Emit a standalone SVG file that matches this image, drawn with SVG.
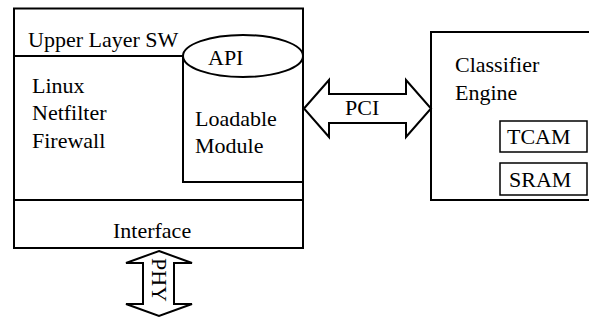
<svg xmlns="http://www.w3.org/2000/svg" width="589" height="321" viewBox="0 0 589 321">
<style>
.ln{fill:none;stroke:#000;stroke-width:2}
.bx{fill:#fff;stroke:#000;stroke-width:2}
.sm{fill:#fff;stroke:#000;stroke-width:1.5}
text{font-family:"Liberation Serif","Times New Roman",serif;font-size:22px;fill:#000}
</style>
<rect width="589" height="321" fill="#fff"/>
<g id="host">
<rect class="bx" x="14" y="8.5" width="289" height="239.5"/>
</g>
<g id="upper-layer-sw">
<line class="ln" x1="14" y1="56" x2="183" y2="56"/>
<text x="28" y="47">Upper Layer SW</text>
<text x="32" y="92.5">Linux</text>
<text x="32" y="120">Netfilter</text>
<text x="32" y="147.5">Firewall</text>
</g>
<g id="loadable-module">
<path class="ln" d="M183,56 V182 H303"/>
<ellipse class="bx" cx="243" cy="56" rx="60" ry="21"/>
<text x="208" y="65">API</text>
<text x="195" y="125.5">Loadable</text>
<text x="195" y="153">Module</text>
</g>
<g id="interface">
<line class="ln" x1="14" y1="200" x2="303" y2="200"/>
<text x="113" y="238">Interface</text>
</g>
<g id="classifier-engine">
<rect class="bx" x="431" y="32" width="170" height="168"/>
<text x="455" y="71.5">Classifier</text>
<text x="455" y="99.5">Engine</text>
</g>
<g id="tcam">
<rect class="sm" x="500" y="121" width="87" height="31"/>
<text x="507" y="143.5">TCAM</text>
</g>
<g id="sram">
<rect class="sm" x="500" y="163" width="87" height="32"/>
<text x="509" y="186.5">SRAM</text>
</g>
<g id="connectors">
<g id="pci">
<polygon class="bx" points="304,108.5 329,80 329,94 406,94 406,80 431,108.5 406,137 406,123 329,123 329,137"/>
<text x="345" y="115">PCI</text>
</g>
<g id="phy">
<polygon class="bx" points="159,251 192,263 174,263 174,304 192,304 159,316 126,304 143,304 143,263 126,263"/>
<text transform="translate(152,258) rotate(90)">PHY</text>
</g>
</g>
</svg>
